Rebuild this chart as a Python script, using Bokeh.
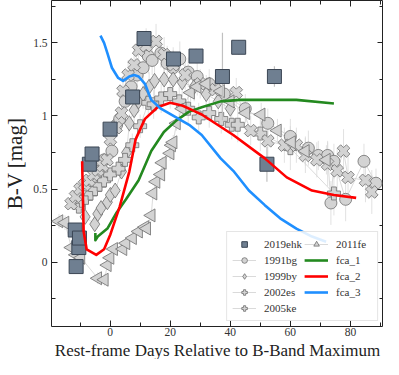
from bokeh.plotting import figure
from bokeh.models import (Legend, LegendItem, LinearAxis, SingleIntervalTicker, Range1d,
                          CustomJSTickFormatter, Title)
from bokeh.embed import file_html
from bokeh.resources import INLINE

# ---------------- data ----------------
ehk_d = [-11.6, -11.3, -10.4, -10.2, -6.9, -6.0, 0.0, 7.5, 11.3, 21.1, 28.6, 37.4, 42.8, 52.2, 54.7]
ehk_v = [0.22, -0.03, 0.10, 0.165, 0.67, 0.74, 0.91, 1.13, 1.53, 1.39, 1.41, 1.27, 1.47, 0.67, 1.27]
ehk_e = [0.03, 0.03, 0.03, 0.03, 0.03, 0.03, 0.03, 0.04, 0.04, 0.05, 0.05, 0.30, 0.05, 0.12, 0.07]

bg91_d = [-6, -4, -2, 0.6, 2.2, 3.2, 5, 7, 9, 11, 12.7, 14, 16.9, 19, 21, 23.2, 26, 29, 33, 38,
          45, 52.5, 60, 66, 69.3, 72.4, 73.5, 74.5, 78.4, 84.5, 88.5]
bg91_v = [0.55, 0.62, 0.70, 0.76, 0.94, 0.98, 1.10, 1.20, 1.28, 1.33, 1.41, 1.38, 1.43, 1.36, 1.33, 1.39,
          1.30, 1.27, 1.22, 1.15, 1.05, 0.95, 0.86, 0.78, 0.73, 0.73, 0.405, 0.69, 0.43, 0.69, 0.54]
bg91_e = [0.05, 0.05, 0.05, 0.05, 0.06, 0.06, 0.06, 0.08, 0.08, 0.10, 0.12, 0.10, 0.10, 0.12, 0.12, 0.12,
          0.10, 0.10, 0.10, 0.10, 0.10, 0.10, 0.12, 0.12, 0.10, 0.10, 0.15, 0.12, 0.15, 0.12, 0.10]

by99_d = [-8.3, -5.1, -4.1, -3.0, -0.9, 0.1, 1.7, 3.8, 5.5, 6.4, 8.0, 9.5, 11, 13, 14.8, 18, 21, 24, 28, 32, 36, 40]
by99_v = [0.31, 0.26, 0.33, 0.37, 0.41, 0.46, 0.49, 0.62, 0.75, 0.95, 1.04, 1.10, 1.15, 1.20, 1.24, 1.25,
          1.25, 1.23, 1.20, 1.15, 1.10, 1.05]
by99_e = [0.04, 0.04, 0.04, 0.04, 0.04, 0.04, 0.05, 0.05, 0.06, 0.06, 0.08, 0.08, 0.10, 0.10, 0.10, 0.10,
          0.10, 0.10, 0.10, 0.08, 0.08, 0.08]

es02_d = [-10.4, -9.4, -8, -6.5, -5, -3.5, -2, 0, 2.8, 5, 7.4, 10, 12.7, 14.5, 17, 20, 23, 26, 29.5, 33,
          37, 40.5, 42.5, 50, 60, 74.5]
es02_v = [0.38, 0.42, 0.44, 0.47, 0.50, 0.53, 0.56, 0.60, 0.64, 0.70, 0.80, 0.93, 1.09, 1.08, 1.12, 1.15,
          1.10, 1.05, 0.99, 1.02, 0.98, 0.94, 0.94, 0.88, 0.78, 0.47]
es02_e = [0.04, 0.04, 0.04, 0.04, 0.04, 0.04, 0.05, 0.05, 0.05, 0.06, 0.08, 0.08, 0.10, 0.10, 0.10, 0.10,
          0.10, 0.10, 0.10, 0.10, 0.10, 0.10, 0.12, 0.12, 0.15, 0.15]

ke05_d = [-13, -11.5, -10, -8.5, -7, -5.5, -4, -2.5, -1, 0.1, 2, 3.8, 4.3, 6, 8, 9.5, 12, 15.3, 18, 21,
          25, 30, 35, 42, 46.8, 52.5, 58, 62, 65, 68.8, 72.4, 75.6, 77.7, 79.2, 85, 87.1]
ke05_v = [0.40, 0.45, 0.50, 0.53, 0.56, 0.60, 0.63, 0.66, 0.70, 0.84, 0.92, 1.02, 1.17, 1.28, 1.35, 1.45,
          1.48, 1.51, 1.42, 1.35, 1.28, 1.22, 1.18, 1.16, 0.90, 0.83, 0.80, 0.80, 0.73, 0.70, 0.67, 0.625,
          0.76, 0.58, 0.56, 0.48]
ke05_e = [0.04, 0.04, 0.04, 0.04, 0.04, 0.04, 0.04, 0.05, 0.05, 0.06, 0.06, 0.08, 0.10, 0.10, 0.12, 0.12,
          0.12, 0.12, 0.12, 0.12, 0.10, 0.10, 0.10, 0.10, 0.10, 0.12, 0.12, 0.12, 0.12, 0.12, 0.15, 0.15,
          0.15, 0.15, 0.15, 0.15]

fe11_d = [-17, -15, -12.9, -11.4, -9.7, -4.1, -1.9, -0.9, 0, 1.2, 4.3, 5.3, 7.5, 9.5, 11.6, 12.2, 13.7,
          14.3, 15.3, 16.9, 17.4, 20, 20.5, 21, 22.1, 24, 26.8, 29, 32, 36.8, 40, 45.2, 50.3, 55.7, 60.4, 65, 72]
fe11_v = [0.28, 0.27, 0.10, 0.05, 0.03, -0.11, -0.12, -0.02, 0.03, 0.09, 0.09, 0.13, 0.165, 0.21, 0.24,
          0.23, 0.32, 0.47, 0.55, 0.60, 0.68, 0.745, 0.80, 0.82, 0.95, 1.05, 1.16, 1.20, 1.22, 1.17, 1.10,
          1.02, 1.01, 0.90, 0.82, 0.76, 0.70]
fe11_e = [0.05, 0.05, 0.04, 0.04, 0.04, 0.04, 0.04, 0.03, 0.03, 0.03, 0.03, 0.03, 0.03, 0.03, 0.03, 0.03,
          0.04, 0.04, 0.04, 0.04, 0.04, 0.05, 0.05, 0.05, 0.05, 0.05, 0.06, 0.06, 0.06, 0.06, 0.06, 0.06,
          0.08, 0.08, 0.08, 0.10, 0.10]

fca1_d = [-4.9, -4.9, -4.1, -0.9, 2.2, 5.3, 9.5, 13.7, 17.9, 22.1, 26.3, 30.5, 36.8, 43.1, 51.5, 62, 74.5]
fca1_v = [0.20, 0.15, 0.175, 0.23, 0.34, 0.43, 0.56, 0.76, 0.89, 0.97, 1.03, 1.06, 1.10, 1.11, 1.11, 1.11, 1.085]

fca2_d = [-9.3, -8.8, -7.8, -4.6, -2.0, 0.1, 3.2, 6.4, 8.5, 11.6, 15.8, 20, 24.2, 28.4, 30.5, 41, 51.5,
          58.8, 67.2, 74.5, 81.9]
fca2_v = [0.69, 0.21, 0.088, 0.05, 0.088, 0.19, 0.38, 0.62, 0.84, 0.98, 1.06, 1.09, 1.07, 1.03, 1.01, 0.87,
          0.71, 0.58, 0.49, 0.46, 0.44]

fca3_d = [-3.2, -2.0, -0.9, 0.6, 2.7, 4.3, 6.4, 8.0, 9.5, 11.6, 13.7, 16.9, 21.1, 26.3, 30.5, 36.8, 41,
          46.2, 51.5, 56.6, 62, 67.2, 71.9]
fca3_v = [1.55, 1.50, 1.43, 1.33, 1.26, 1.24, 1.27, 1.28, 1.27, 1.22, 1.11, 1.05, 1.00, 0.94, 0.87, 0.71,
          0.625, 0.49, 0.39, 0.30, 0.23, 0.175, 0.14]

x_lo, x_hi = -19.5, 91
y_lo, y_hi = -0.44, 1.79
x_title = "Rest-frame Days Relative to B-Band Maximum"
y_title = "B-V [mag]"

# ---------------- styling ----------------
FONT = "Liberation Serif"
GRAY_FILL = "#d3d3d3"
GRAY_EDGE = "#6e6e6e"
LINK = "#bdbdbd"
ERR = "#d9d9d9"

p = figure(width=383, height=359, output_backend="svg", toolbar_location=None,
           x_range=Range1d(x_lo, x_hi), y_range=Range1d(y_lo, y_hi),
           min_border_left=33, min_border_right=0, min_border_top=0, min_border_bottom=0)
p.grid.visible = False
p.outline_line_color = "#222222"
p.outline_line_width = 1
p.background_fill_color = "white"
p.border_fill_color = "white"

p.xaxis.ticker = SingleIntervalTicker(interval=20, num_minor_ticks=2)
p.yaxis.ticker = SingleIntervalTicker(interval=0.5, num_minor_ticks=2)

for ax in (p.xaxis[0], p.yaxis[0]):
    ax.major_tick_in = 6
    ax.major_tick_out = 0
    ax.minor_tick_in = 4
    ax.minor_tick_out = 0
    ax.major_tick_line_color = "#222222"
    ax.minor_tick_line_color = "#222222"
    ax.axis_line_color = None
    ax.major_label_text_font = FONT
    ax.major_label_text_font_size = "11.5px"
    ax.major_label_text_color = "#333333"
    ax.axis_label_text_font = FONT
    ax.axis_label_text_font_style = "normal"
    ax.axis_label_text_color = "#222222"

p.xaxis.major_label_standoff = 1
p.xaxis.axis_label_standoff = 0
p.yaxis.axis_label = y_title
p.yaxis.axis_label_text_font_size = "21px"
p.yaxis.axis_label_standoff = 3
p.yaxis.major_label_standoff = 4

# x-axis title placed below the axis
p.add_layout(Title(text=x_title, align="center", text_font=FONT, text_font_size="17px",
                   text_font_style="normal", text_color="#222222", standoff=0, offset=0,
                   text_line_height=0.8),
             "below")

blank = CustomJSTickFormatter(code="return '';")
top = LinearAxis(ticker=SingleIntervalTicker(interval=20, num_minor_ticks=2), formatter=blank)
right = LinearAxis(ticker=SingleIntervalTicker(interval=0.5, num_minor_ticks=2), formatter=blank)
for ax in (top, right):
    ax.major_tick_in = 6
    ax.major_tick_out = 0
    ax.minor_tick_in = 4
    ax.minor_tick_out = 0
    ax.major_tick_line_color = "#222222"
    ax.minor_tick_line_color = "#222222"
    ax.axis_line_color = None
    ax.major_label_text_font_size = "1px"
    ax.major_label_standoff = 0
    ax.axis_label_standoff = 0
p.add_layout(top, "above")
p.add_layout(right, "right")

# ---------------- comparison sets ----------------
sets = [
    ("1991bg", bg91_d, bg91_v, bg91_e, "circle", 0, 12),
    ("1999by", by99_d, by99_v, by99_e, "diamond", 0, 15),
    ("2002es", es02_d, es02_v, es02_e, "plus", 0, 13),
    ("2005ke", ke05_d, ke05_v, ke05_e, "plus", 0.7854, 13),
    ("2011fe", fe11_d, fe11_v, fe11_e, "triangle", 1.5708, 13),
]

links = {}
for name, d, v, e, marker, ang, size in sets:
    p.segment(x0=d, y0=[a - b for a, b in zip(v, e)], x1=d, y1=[a + b for a, b in zip(v, e)],
              line_color=ERR, line_width=1, line_alpha=0.8)
    links[name] = p.line(d, v, line_color=LINK, line_width=0.8, line_alpha=0.7)

renderers = {}
for name, d, v, e, marker, ang, size in sets:
    sc = p.scatter(d, v, marker=marker, angle=ang, size=size,
                   fill_color=GRAY_FILL, line_color=GRAY_EDGE, line_width=0.8)
    renderers[name] = [links[name], sc]

# 2019ehk
p.segment(x0=ehk_d, y0=[a - b for a, b in zip(ehk_v, ehk_e)], x1=ehk_d,
          y1=[a + b for a, b in zip(ehk_v, ehk_e)], line_color="#c0c0c0", line_width=1.2)
ehk = p.scatter(ehk_d, ehk_v, marker="square", size=14, fill_color="#6f7f91",
                line_color="#3b4654", line_width=1.0)

# models
c1 = p.line(fca1_d, fca1_v, line_color="#23891f", line_width=2.6, line_join="round")
c2 = p.line(fca2_d, fca2_v, line_color="#ff0000", line_width=2.6, line_join="round")
c3 = p.line(fca3_d, fca3_v, line_color="#1f8fff", line_width=2.6, line_join="round")

items = [
    LegendItem(label="2019ehk", renderers=[ehk]),
    LegendItem(label="1991bg", renderers=renderers["1991bg"]),
    LegendItem(label="1999by", renderers=renderers["1999by"]),
    LegendItem(label="2002es", renderers=renderers["2002es"]),
    LegendItem(label="2005ke", renderers=renderers["2005ke"]),
    LegendItem(label="2011fe", renderers=renderers["2011fe"]),
    LegendItem(label="fca_1", renderers=[c1]),
    LegendItem(label="fca_2", renderers=[c2]),
    LegendItem(label="fca_3", renderers=[c3]),
]
legend = Legend(items=items, location="bottom_right", nrows=5,
                label_text_font=FONT, label_text_font_size="11px", label_text_color="#333333",
                glyph_width=24, glyph_height=14, label_standoff=8, spacing=2, padding=5,
                margin=5, label_height=14, label_width=36,
                border_line_color="#cccccc", border_line_width=1,
                background_fill_color="white", background_fill_alpha=0.85)
p.add_layout(legend, "center")

open("out.html", "w").write(file_html(p, INLINE))
